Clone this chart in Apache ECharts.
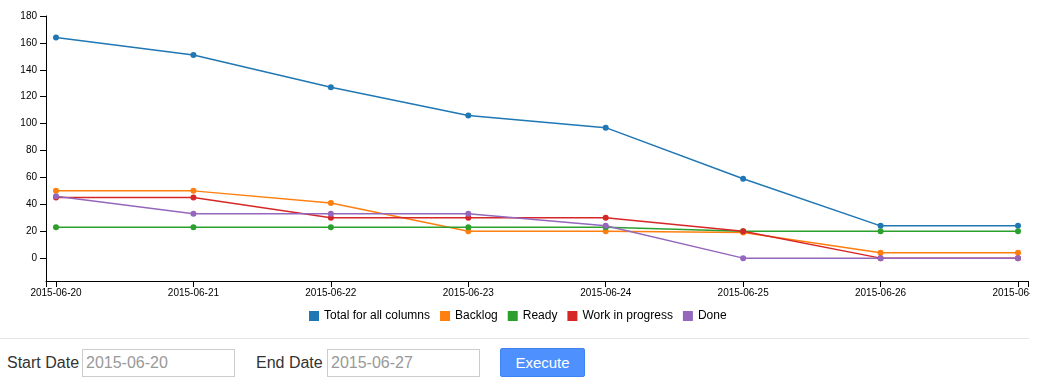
<!DOCTYPE html>
<html>
<head>
<meta charset="utf-8">
<script src="https://cdn.jsdelivr.net/npm/echarts@6/dist/echarts.min.js"></script>
<style>
  html, body { margin: 0; padding: 0; background: #fff; font-family: "Liberation Sans", Arial, sans-serif; overflow: hidden; }
  #chart { position: absolute; left: 0; top: 0; width: 1030px; height: 330px; }
  #sep { position: absolute; left: 0; top: 338px; width: 1029px; border-top: 1px solid #e5e5e5; }
  .lbl { position: absolute; top: 351px; font-size: 16px; color: #333; line-height: 24px; }
  .inp { position: absolute; top: 349px; border: 1px solid #ccc; font-size: 16px; color: #999;
         line-height: 26px; padding-left: 3px; box-sizing: border-box; width: 153px; height: 28px; font-family: "Liberation Sans", Arial, sans-serif; }
  #btn { position: absolute; left: 500px; top: 348px; width: 85px; height: 29px; background: #4d90fe; border: 1px solid #3f83f2;
         box-sizing: border-box; border-radius: 2px; color: #fff; font-size: 15px; line-height: 27px; text-align: center; }
</style>
</head>
<body>
<div id="chart"></div>
<div id="sep"></div>
<div class="lbl" style="left:7px;">Start Date</div>
<div class="inp" style="left:82px;">2015-06-20</div>
<div class="lbl" style="left:256px;">End Date</div>
<div class="inp" style="left:327px;">2015-06-27</div>
<div id="btn">Execute</div>
<script>
// ---- data ----
const dates = ["2015-06-20", "2015-06-21", "2015-06-22", "2015-06-23", "2015-06-24", "2015-06-25", "2015-06-26", "2015-06-27"];
const seriesNames = ["Total for all columns", "Backlog", "Ready", "Work in progress", "Done"];
const totalAll = [164, 151, 127, 106, 97, 59, 24, 24];
const backlog = [50, 50, 41, 20, 20, 19, 4, 4];
const ready = [23, 23, 23, 23, 23, 20, 20, 20];
const workInProgress = [45, 45, 30, 30, 30, 20, 0, 0];
const done = [46, 33, 33, 33, 24, 0, 0, 0];
const yTicks = [0, 20, 40, 60, 80, 100, 120, 140, 160, 180];
const colors = ["#1f77b4", "#ff7f0e", "#2ca02c", "#d62728", "#9467bd"];

const allValues = [totalAll, backlog, ready, workInProgress, done];
const xIdx = dates.map((d, i) => i);
const pad = 0.0728;
const xMin = -pad, xMax = (dates.length - 1) + pad;

const chart = echarts.init(document.getElementById('chart'), null, { renderer: 'canvas' });
chart.setOption({
  animation: false,
  color: colors,
  textStyle: { fontFamily: '"Liberation Sans", Arial, sans-serif' },
  legend: {
    data: seriesNames,
    left: 309, top: 310,
    padding: 0,
    itemWidth: 10, itemHeight: 10, itemGap: 10,
    icon: 'rect',
    textStyle: { fontSize: 12, color: '#000' }
  },
  grid: { left: 46, right: 2, top: 16, bottom: 49, containLabel: false, outerBoundsMode: 'none' },
  xAxis: {
    type: 'value',
    min: xMin, max: xMax,
    splitLine: { show: false },
    axisLine: { show: true, onZero: false, lineStyle: { color: '#000', width: 1 } },
    axisTick: { show: true, length: 6, lineStyle: { color: '#000' }, customValues: [xMin].concat(xIdx, [xMax]) },
    axisLabel: {
      customValues: xIdx,
      fontSize: 10, color: '#000', margin: 7,
      hideOverlap: false,
      formatter: v => dates[Math.round(v)]
    }
  },
  yAxis: {
    type: 'value',
    min: -17, max: 180,
    splitLine: { show: false },
    axisLine: { show: true, onZero: false, lineStyle: { color: '#000', width: 1 } },
    axisTick: { show: true, length: 6, lineStyle: { color: '#000' }, customValues: yTicks },
    axisLabel: { customValues: yTicks, fontSize: 10, color: '#000', margin: 9 }
  },
  series: seriesNames.map((name, s) => ({
    name: name,
    type: 'line',
    data: allValues[s].map((v, i) => [xIdx[i], v]),
    symbol: 'circle',
    symbolSize: 6,
    showSymbol: true,
    lineStyle: { width: 1.5 },
    emphasis: { disabled: true }
  }))
});
</script>
</body>
</html>
